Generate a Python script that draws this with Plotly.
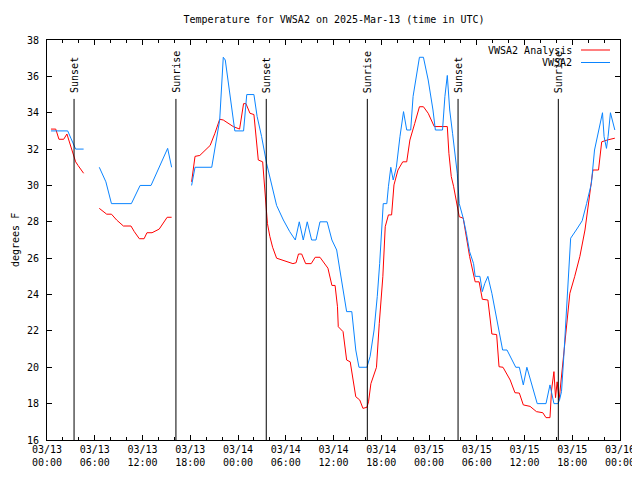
import plotly.graph_objects as go
import pandas as pd

BASE = pd.Timestamp("2025-03-13 00:00")

# VWSA2 Analysis (red): hours since 03/13 00:00 UTC, temperature (F); None = gap
analysis_hours = [0.5, 1.1, 1.5, 2.1, 2.5, 2.9, 3.43, 3.6, 3.9, 4.6, 5.5,
                  6.57, 7.2, 7.5, 8.1, 8.75, 9.6, 10.55, 10.97, 11.6, 12.2, 12.56, 13.2, 14.1, 15.1, 15.66, 17.0,
                  18.17, 18.6, 19.2, 20.5, 21.1, 21.7, 22.15, 23.4, 24.2, 24.7, 25.0, 25.5, 26.0, 26.55, 27.1,
                  27.4, 27.7, 28.0, 28.35, 28.85, 30.9, 31.3, 31.6, 32.0, 32.5, 33.2, 33.7, 34.3, 34.9, 35.3,
                  35.8, 36.2, 36.5, 36.6, 37.2, 37.65, 38.1, 38.5, 38.8, 39.3, 39.7, 40.2, 40.4, 40.7, 41.0,
                  41.4, 41.75, 42.2, 42.5, 42.9, 43.3, 43.6, 44.1, 44.7, 45.2, 45.6, 46.2, 46.8, 47.3, 47.9,
                  48.66, 50.3, 50.5, 50.8, 51.1, 51.5, 51.8, 52.3, 52.7, 53.1, 53.8, 54.3, 54.7, 55.4, 55.7,
                  55.9, 56.5, 56.8, 57.3, 58.2, 58.8, 59.35, 59.85, 60.7, 61.5, 62.3, 62.7, 63.2, 63.4, 63.7,
                  63.9, 64.1, 64.35, 64.65, 64.95, 65.3, 65.7, 66.3, 66.96, 67.6, 68.2, 68.6, 69.3, 69.7,
                  70.4, 71.35]
analysis_temps = [33.1, 33.1, 32.54, 32.54, 32.83, 32.3, 31.6, 31.3, 31.1, 30.67, None,
                  28.74, 28.54, 28.42, 28.42, 28.1, 27.77, 27.77, 27.46, 27.07, 27.07, 27.4, 27.4, 27.6, 28.25, 28.25, None,
                  30.2, 31.6, 31.65, 32.2, 32.87, 33.64, 33.6, 33.24, 33.1, 34.5, 34.5, 33.97, 33.9, 31.4, 31.3,
                  29.57, 27.9, 27.2, 26.6, 26.0, 25.7, 25.75, 26.23, 26.23, 25.7, 25.7, 26.05, 26.05, 25.7, 25.45,
                  24.5, 24.5, 23.33, 22.23, 21.96, 20.4, 20.3, 19.1, 18.38, 18.2, 17.74, 17.8, 18.1, 19.1, 19.5,
                  20.0, 22.4, 24.98, 27.73, 28.38, 28.38, 30.03, 30.85, 31.3, 31.3, 32.5, 33.4, 34.33, 34.33, 33.97,
                  33.24, 33.24, 31.77, 30.49, 29.93, 29.0, 28.28, 28.2, 27.2, 26.1, 24.7, 24.7, 23.74, 23.7, 22.6,
                  21.83, 21.8, 20.03, 20.0, 19.3, 18.6, 18.58, 17.93, 17.85, 17.56, 17.5, 17.23, 17.23, 18.75, 19.76,
                  18.33, 19.2, 18.2, 19.5, 20.95, 22.6, 24.07, 24.98, 26.1, 27.55, 29.38, 30.85, 30.85, 32.4,
                  32.5, 32.6]

# VWSA2 observations (blue)
obs_hours = [0.5, 1.5, 2.6, 3.0, 3.4, 3.6, 4.6, 5.5,
             6.57, 7.4, 8.1, 10.6, 11.7, 13.07, 15.16, 15.66, 17.0,
             18.17, 18.6, 20.7, 21.1, 21.7, 22.15, 22.4, 23.6, 24.7, 25.1, 26.0, 26.4, 26.96, 27.6, 28.2,
             28.85, 29.7, 30.5, 31.2, 31.7, 32.2, 32.7, 33.25, 33.8, 34.3, 35.2, 35.8, 36.4, 36.8, 37.3,
             37.65, 38.3, 38.5, 38.8, 39.2, 40.2, 40.6, 41.1, 41.5, 41.8, 42.25, 42.7, 42.9, 43.2, 43.5,
             43.9, 44.35, 44.8, 45.2, 45.7, 46.0, 46.8, 47.3, 47.9, 48.5, 48.8, 49.7, 50.0, 50.3, 50.6,
             50.96, 51.3, 51.55, 51.8, 52.3, 52.7, 53.1, 53.6, 53.8, 54.4, 54.7, 55.0, 55.4, 55.9, 56.5,
             57.25, 57.8, 58.2, 58.9, 59.35, 59.85, 60.3, 60.9, 61.6, 62.7, 63.2, 63.7, 64.2, 64.4, 64.65,
             64.95, 65.3, 65.8, 66.5, 67.25, 67.8, 68.4, 68.8, 69.4, 69.8, 70.0, 70.3, 70.5, 70.8, 71.35]
obs_temps = [33, 33, 33, 32.6, 32.2, 32, 32, None,
             31.0, 30.2, 29.0, 29.0, 30.0, 30.0, 32.04, 31.0, None,
             30.0, 31.0, 31.0, 31.95, 33.6, 37.05, 36.9, 33.0, 33.0, 35.0, 35.0, 33.8, 32.7, 31.2, 30.1,
             28.9, 28.1, 27.46, 27.0, 28, 27, 28, 27, 27, 28, 28, 27, 26.45, 25.35, 23.9,
             23.06, 23.06, 22.05, 20.95, 20.0, 20.0, 20.6, 22.05, 23.9, 25.7, 29.0, 29.0, 29.93, 31.0, 30.3,
             31.0, 32.68, 34.06, 33.05, 33.05, 34.9, 37.05, 37.05, 35.8, 34.15, 33.05, 33.05, 34.9, 36.05, 34.15,
             32.87, 31.77, 30.67, 29.0, 28.2, 27.37, 26.36, 25.7, 25.0, 25.0, 24.16, 24.6, 25.0, 24.07, 22.6,
             20.95, 20.95, 20.58, 20.0, 20.0, 19.03, 20.0, 19.1, 18.0, 18.0, 19.03, 18.0, 18.0, 18.2, 18.66,
             20.67, 23.5, 27.1, 27.55, 28.06, 29.0, 30.1, 31.95, 33.24, 34.0, 32.68, 32.04, 32.68, 34.0, 33.05]

# Sun events (hours since start)
sun_event_hours = [3.4, 16.2, 27.55, 40.25, 51.65, 64.25]
sun_event_labels = ["Sunset", "Sunrise", "Sunset", "Sunrise", "Sunset", "Sunrise"]

# Axis ticks
x_tick_hours = [0, 6, 12, 18, 24, 30, 36, 42, 48, 54, 60, 66, 72]
x_tick_text = ["03/13<br>00:00", "03/13<br>06:00", "03/13<br>12:00", "03/13<br>18:00",
               "03/14<br>00:00", "03/14<br>06:00", "03/14<br>12:00", "03/14<br>18:00",
               "03/15<br>00:00", "03/15<br>06:00", "03/15<br>12:00", "03/15<br>18:00",
               "03/16<br>00:00"]
y_ticks = [16, 18, 20, 22, 24, 26, 28, 30, 32, 34, 36, 38]


def to_time(hours):
    return [BASE + pd.Timedelta(hours=h) for h in hours]


FONT = "DejaVu Sans Mono"
RED = "#ff0000"
BLUE = "#0a84ff"

# page body has an 8px margin; figure sized/margined so plot box lands at x 47..620, y 40..440
PAGE_OFF = 8
FIG_W, FIG_H = 640 - PAGE_OFF, 480 - PAGE_OFF
ML, MR, MT, MB = 47 - PAGE_OFF, 20, 40 - PAGE_OFF, 40
PLOT_W = FIG_W - ML - MR
PLOT_H = FIG_H - MT - MB

fig = go.Figure()
fig.add_trace(go.Scatter(x=to_time(analysis_hours), y=analysis_temps, mode="lines",
                         line=dict(color=RED, width=1), name="VWSA2 Analysis",
                         connectgaps=False, showlegend=False))
fig.add_trace(go.Scatter(x=to_time(obs_hours), y=obs_temps, mode="lines",
                         line=dict(color=BLUE, width=1), name="VWSA2",
                         connectgaps=False, showlegend=False))

shapes = []
annotations = []
for h, lab in zip(to_time(sun_event_hours), sun_event_labels):
    shapes.append(dict(type="line", xref="x", yref="y", x0=h, x1=h, y0=16, y1=34.76,
                       line=dict(color="black", width=1)))
    annotations.append(dict(x=h, y=34.98, xref="x", yref="y", text=lab, showarrow=False,
                            textangle=-90, xanchor="center", yanchor="bottom", xshift=1,
                            font=dict(family=FONT, size=10, color="black")))

# legend (gnuplot style: right-aligned text, sample line at right)
legend_items = [("VWSA2 Analysis", RED), ("VWSA2", BLUE)]
for i, (txt, col) in enumerate(legend_items):
    ypix = 50 + i * 12.5
    yp = 1 - (ypix - 40) / PLOT_H
    annotations.append(dict(x=(574 - 47) / PLOT_W, y=yp, xref="paper", yref="paper", text=txt,
                            showarrow=False, xanchor="right", yanchor="middle",
                            font=dict(family=FONT, size=10, color="black")))
    shapes.append(dict(type="line", xref="paper", yref="paper",
                       x0=(581 - 47) / PLOT_W, x1=(610 - 47) / PLOT_W, y0=yp, y1=yp,
                       line=dict(color=col, width=1)))

annotations.append(dict(x=0, y=0.5, xref="paper", yref="paper", text="degrees F", showarrow=False,
                        textangle=-90, xanchor="center", yanchor="middle", xshift=-32,
                        font=dict(family=FONT, size=10, color="black")))

fig.update_layout(
    width=FIG_W, height=FIG_H,
    margin=dict(l=ML, r=MR, t=MT, b=MB, autoexpand=False),
    paper_bgcolor="white", plot_bgcolor="white",
    font=dict(family=FONT, size=10, color="black"),
    title=dict(text="Temperature for VWSA2 on 2025-Mar-13 (time in UTC)",
               x=(334 - PAGE_OFF) / FIG_W, xanchor="center",
               y=1 - (19 - PAGE_OFF) / FIG_H, yanchor="middle",
               font=dict(family=FONT, size=10, color="black"), automargin=False),
    shapes=shapes, annotations=annotations,
    showlegend=False,
)
fig.update_xaxes(
    type="date", automargin=False,
    range=[BASE, BASE + pd.Timedelta(hours=72)],
    tickmode="array", tickvals=to_time(x_tick_hours), ticktext=x_tick_text,
    ticks="inside", ticklen=5, tickcolor="black", tickwidth=1,
    minor=dict(dtick=2 * 3600 * 1000, tick0=BASE, ticks="inside", ticklen=3,
               tickcolor="black", showgrid=False),
    showline=True, linecolor="black", linewidth=1, mirror="allticks",
    showgrid=False, zeroline=False,
    tickfont=dict(family=FONT, size=10, color="black"),
)
fig.update_yaxes(
    range=[16, 38], tickmode="array", tickvals=y_ticks, automargin=False,
    ticks="inside", ticklen=5, tickcolor="black", tickwidth=1,
    showline=True, linecolor="black", linewidth=1, mirror="allticks",
    showgrid=False, zeroline=False, ticklabelstandoff=5,
    tickfont=dict(family=FONT, size=10, color="black"),
)

fig.write_html("out.html")
